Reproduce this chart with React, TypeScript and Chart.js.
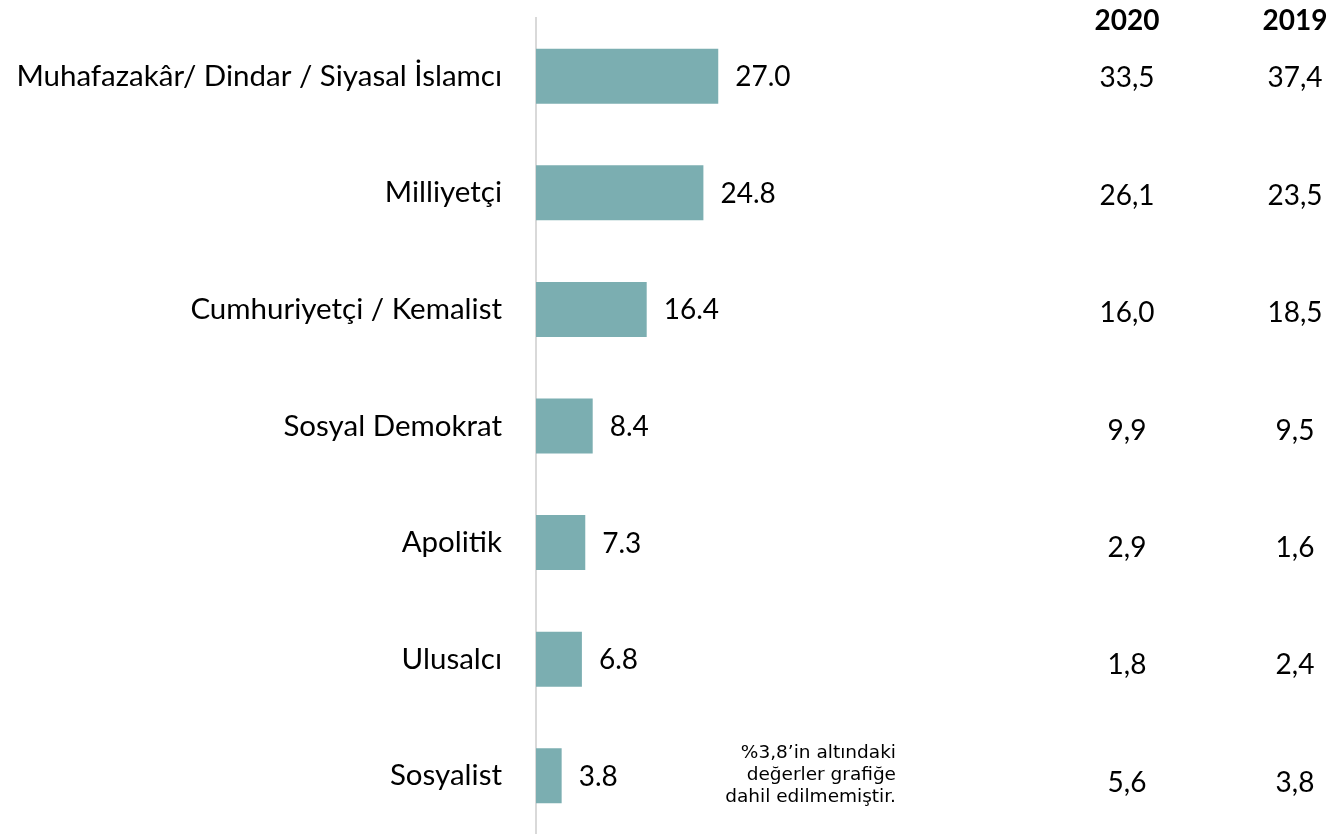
import React, { useEffect, useRef } from "react";
import { Chart, registerables } from "chart.js";

Chart.register(...registerables);

const categories = [
  "Muhafazakâr/ Dindar / Siyasal İslamcı",
  "Milliyetçi",
  "Cumhuriyetçi / Kemalist",
  "Sosyal Demokrat",
  "Apolitik",
  "Ulusalcı",
  "Sosyalist",
];
const values = [27.0, 24.8, 16.4, 8.4, 7.3, 6.8, 3.8];
const yearHeaders = ["2020", "2019"];
const values2020 = ["33,5", "26,1", "16,0", "9,9", "2,9", "1,8", "5,6"];
const values2019 = ["37,4", "23,5", "18,5", "9,5", "1,6", "2,4", "3,8"];
const noteLines = ["%3,8’in altındaki", "değerler grafiğe", "dahil edilmemiştir."];

const FONT = "Lato";
const BAR_COLOR = "#7BAEB1";

export default function App() {
  const ref = useRef<HTMLCanvasElement | null>(null);

  useEffect(() => {
    const canvas = ref.current;
    if (!canvas) return;

    const labelsPlugin = {
      id: "extraLabels",
      afterDatasetsDraw(chart: any) {
        const ctx = chart.ctx;
        const meta = chart.getDatasetMeta(0);
        ctx.save();
        // bar value labels
        ctx.fillStyle = "#000";
        ctx.font = `28px ${FONT}`;
        ctx.textAlign = "left";
        ctx.textBaseline = "middle";
        meta.data.forEach((bar: any, i: number) => {
          ctx.fillText(values[i].toFixed(1), bar.x + 17, bar.y + 1);
        });

        // right-hand table
        const yScale = chart.scales.y;
        const first = yScale.getPixelForValue(0) + 2;
        const last = yScale.getPixelForValue(categories.length - 1) + 7;
        const step = (last - first) / (categories.length - 1);
        const colX = [1127, 1295];
        ctx.textAlign = "center";
        ctx.font = `bold 28px ${FONT}`;
        yearHeaders.forEach((h, j) => ctx.fillText(h, colX[j], 21));
        ctx.font = `28px ${FONT}`;
        [values2020, values2019].forEach((col, j) => {
          col.forEach((v, i) => {
            ctx.fillText(v, colX[j], first + step * i);
          });
        });

        // note
        const lastY = yScale.getPixelForValue(categories.length - 1);
        ctx.font = `18.5px "DejaVu Sans"`;
        ctx.textAlign = "right";
        noteLines.forEach((line, k) => {
          ctx.fillText(line, 896, lastY - 23 + k * 22);
        });
        ctx.restore();
      },
    };

    const chart = new Chart(canvas, {
      type: "bar",
      data: {
        labels: categories,
        datasets: [
          {
            data: values,
            backgroundColor: BAR_COLOR,
            borderWidth: 0,
            categoryPercentage: 1,
            barPercentage: 0.472,
          },
        ],
      },
      options: {
        indexAxis: "y",
        animation: false,
        responsive: false,
        maintainAspectRatio: false,
        layout: { padding: { top: 18, bottom: 0, left: 0, right: 524 } },
        plugins: {
          legend: { display: false },
          tooltip: { enabled: false },
        },
        scales: {
          x: {
            display: false,
            min: 0,
            max: 40,
          },
          y: {
            afterFit(scale: any) {
              scale.width = 536;
              scale.paddingTop = 0;
              scale.paddingBottom = 0;
            },
            grid: { display: false, drawTicks: false },
            border: { display: true, color: "#D9D9D9", width: 2 },
            ticks: {
              color: "#000",
              padding: 34,
              font: { family: FONT, size: 29.5 },
            },
          },
        },
      },
      plugins: [labelsPlugin],
    });

    return () => chart.destroy();
  }, []);

  return (
    <div style={{ position: "fixed", left: 0, top: 0, width: 1330, height: 834, background: "#fff" }}>
      <canvas ref={ref} width={1330} height={834} />
    </div>
  );
}
